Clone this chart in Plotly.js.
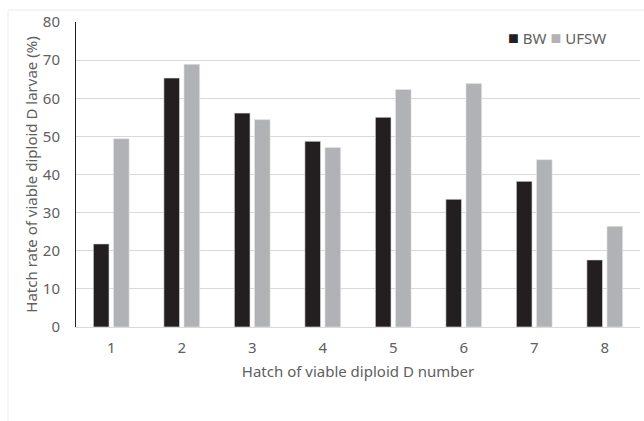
<!DOCTYPE html>
<html>
<head>
<meta charset="utf-8">
<script src="https://cdn.plot.ly/plotly-3.0.1.min.js"></script>
<style>html,body{margin:0;padding:0;background:#fff;}#chart{width:644px;height:421px;}</style>
</head>
<body>
<div id="chart"></div>
<script>
const categories = ["1","2","3","4","5","6","7","8"];
const bwValues = [21.8, 65.3, 56.1, 48.7, 55.0, 33.5, 38.2, 17.6];
const ufswValues = [49.4, 68.9, 54.4, 47.1, 62.3, 63.9, 43.9, 26.4];
const yTicks = [0, 10, 20, 30, 40, 50, 60, 70, 80];
const seriesNames = ["BW", "UFSW"];
const seriesColors = ["#231f20", "#b1b2b5"];

const font = "Noto Sans, Open Sans, sans-serif";
const textColor = "#606060";
const traces = [
  {type: "bar", name: seriesNames[0], x: categories, y: bwValues,
   marker: {color: seriesColors[0], line: {color: "#e8e8e8", width: 0.6}}},
  {type: "bar", name: seriesNames[1], x: categories, y: ufswValues,
   marker: {color: seriesColors[1], line: {color: "#e8e8e8", width: 0.6}}}
];
const legendText = seriesNames.map((n, i) =>
  `<span style="color:${seriesColors[i]};font-size:18px">■</span> ${n}`).join(" ");
const layout = {
  width: 644, height: 421,
  margin: {l: 76, r: 4, t: 22, b: 94},
  paper_bgcolor: "#fff", plot_bgcolor: "#fff",
  barmode: "group", bargap: 0.43, bargroupgap: 0.22,
  font: {family: font, color: textColor, size: 15},
  showlegend: false,
  annotations: [{xref: "paper", yref: "paper", x: 0.762, y: 0.95, xanchor: "left", yanchor: "middle",
                 text: legendText, showarrow: false, font: {size: 15, color: textColor}}],
  xaxis: {type: "category", showgrid: false, showline: true, linecolor: "#d9d9d9", linewidth: 1,
          ticks: "", tickfont: {size: 15, color: textColor}, ticklabelstandoff: 7,
          title: {text: "Hatch of viable diploid D number", font: {size: 15, color: textColor}, standoff: 10}},
  yaxis: {range: [0, 80], tickvals: yTicks, showgrid: true, gridcolor: "#d9d9d9", gridwidth: 1,
          showline: true, linecolor: "#231f20", linewidth: 1, zeroline: false, ticks: "",
          tickfont: {size: 15, color: textColor}, ticklabelstandoff: 12,
          title: {text: "Hatch rate of viable diploid D larvae (%)", font: {size: 15, color: textColor}, standoff: 1}},
  shapes: [{type: "rect", xref: "paper", yref: "paper", x0: -0.1206, x1: 1.2, y0: -0.5, y1: 1.039,
            line: {color: "#ececec", width: 1}, fillcolor: "rgba(0,0,0,0)", layer: "below"}]
};
Plotly.newPlot("chart", traces, layout, {displayModeBar: false, staticPlot: true});
</script>
</body>
</html>
